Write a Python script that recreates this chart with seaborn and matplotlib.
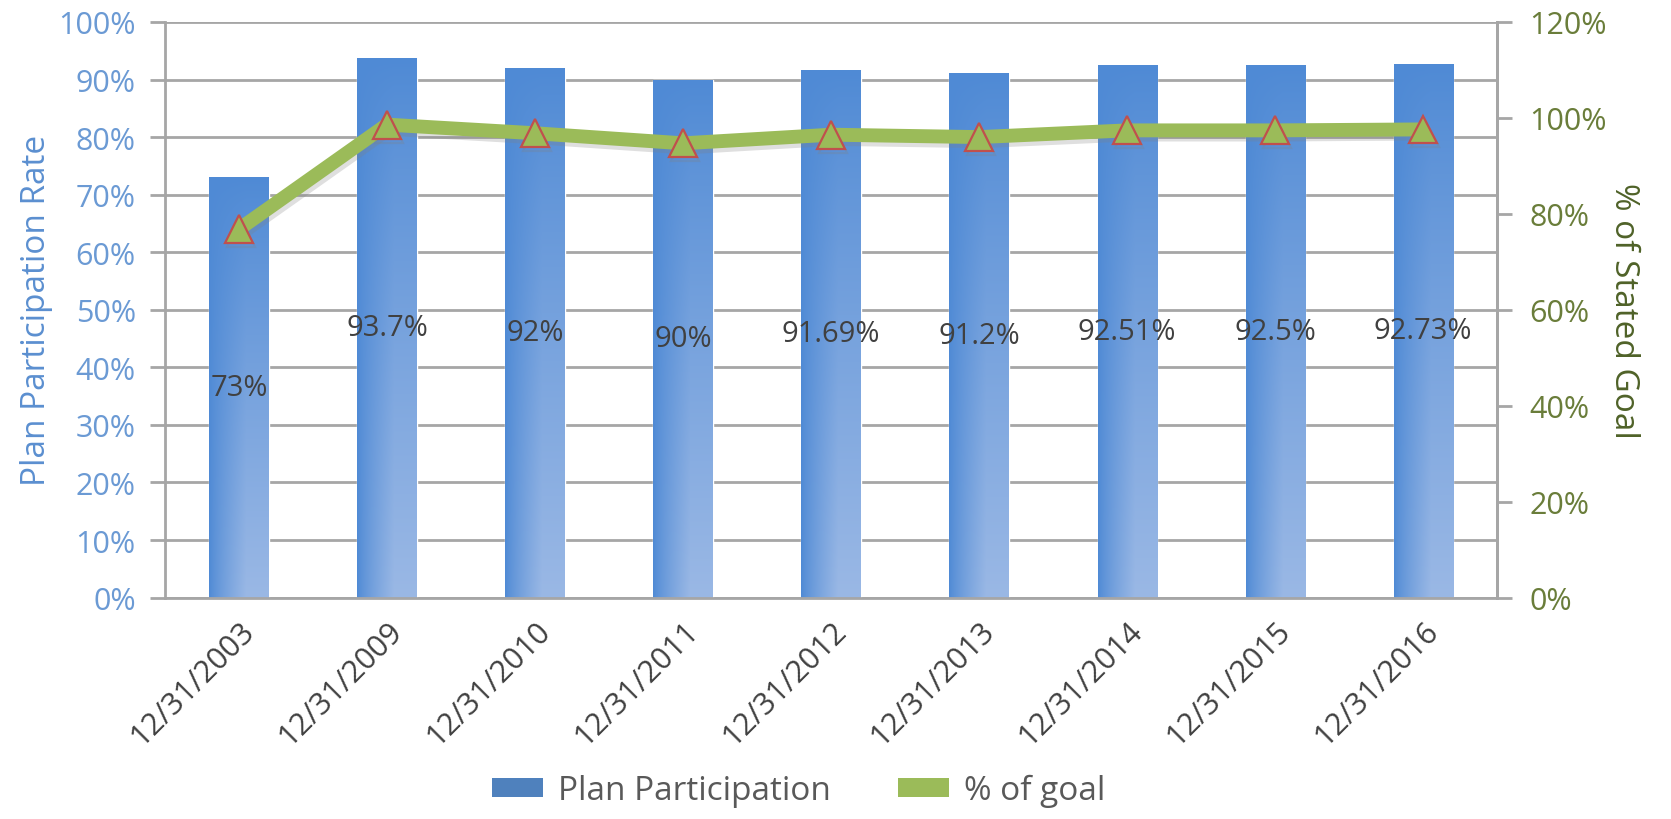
import numpy as np
import pandas as pd
import matplotlib
matplotlib.use("Agg")
import matplotlib.pyplot as plt
import matplotlib.patheffects as pe
from matplotlib.patches import Patch
import seaborn as sns

# ---- data ----
dates = ["12/31/2003", "12/31/2009", "12/31/2010", "12/31/2011", "12/31/2012",
         "12/31/2013", "12/31/2014", "12/31/2015", "12/31/2016"]
participation = [0.73, 0.937, 0.92, 0.90, 0.9169, 0.912, 0.9251, 0.925, 0.9273]
bar_labels = ["73%", "93.7%", "92%", "90%", "91.69%", "91.2%", "92.51%", "92.5%", "92.73%"]
pct_of_goal = [0.768, 0.986, 0.968, 0.947, 0.965, 0.960, 0.974, 0.974, 0.976]
left_ticks = [0, .1, .2, .3, .4, .5, .6, .7, .8, .9, 1.0]
right_ticks = [0, .2, .4, .6, .8, 1.0, 1.2]

sns.set_style("white")
plt.rcParams['font.family'] = ['Open Sans', 'DejaVu Sans']

BLUE_DARK = np.array([0x4f, 0x8a, 0xd5]) / 255
BLUE_LIGHT = np.array([0x9a, 0xb8, 0xe5]) / 255
GREEN = "#9bbb59"
GRID = "#a6a6a6"

fig = plt.figure(figsize=(16.71, 8.20), dpi=100)
ax = fig.add_axes([0.0987, 0.270, 0.7973, 0.702])

df = pd.DataFrame({"date": dates, "participation": participation})
sns.barplot(data=df, x="date", y="participation", ax=ax, color=BLUE_DARK,
            width=0.4, saturation=1, zorder=2)

# gradient fill inside each bar
H, W = 200, 60
xs = np.linspace(0, 1, W)
ys = np.linspace(0, 1, H)  # 0 bottom, 1 top
XX, YY = np.meshgrid(xs, ys)
t = np.clip(XX * 1.6, 0, 1) ** 0.8 * (1 - YY) ** 0.9
img = BLUE_DARK[None, None, :] * (1 - t[..., None]) + BLUE_LIGHT[None, None, :] * t[..., None]
for p in list(ax.patches):
    x0, y0 = p.get_x(), p.get_y()
    w, h = p.get_width(), p.get_height()
    im = ax.imshow(img, extent=[x0, x0 + w, y0, y0 + h], origin="lower",
                   aspect="auto", zorder=2.1, interpolation="bilinear")
    im.set_clip_path(p)

ax.bar_label(ax.containers[0], labels=bar_labels, label_type="center",
             fontsize=21, color="#404040", zorder=5)

ax.set_xlim(-0.5, len(dates) - 0.5)
ax.set_ylim(0, 1.0)
ax.set_yticks(left_ticks)
ax.set_yticklabels([f"{int(round(v*100))}%" for v in left_ticks])
ax.yaxis.grid(True, color=GRID, linewidth=2, zorder=0)
ax.set_axisbelow(True)
ax.tick_params(axis="y", direction="out", length=11, width=2, color=GRID,
               labelsize=22, labelcolor="#6b9ad4", pad=10)
ax.set_ylabel("Plan Participation Rate", fontsize=24, color="#5b8fd0", labelpad=4)
ax.set_xlabel("")

# x ticks: labels at centres (small inward ticks), boundaries as outward minor ticks
ax.set_xticks(np.arange(len(dates)))
ax.set_xticklabels(dates, rotation=45, ha="right", rotation_mode="anchor",
                   fontsize=22, color="#404040")
ax.tick_params(axis="x", direction="in", length=8, width=2, color=GRID, pad=13)
ax.set_xticks(np.arange(len(dates) + 1) - 0.5, minor=True)
ax.tick_params(axis="x", which="minor", direction="out", length=11, width=2, color=GRID)

ax.spines["top"].set_visible(False)
for s in ["left", "bottom", "right"]:
    ax.spines[s].set_color(GRID)
    ax.spines[s].set_linewidth(2)

# secondary axis line
ax2 = ax.twinx()
pos = np.arange(len(dates))
ax2.plot(pos, pct_of_goal, color=GREEN, linewidth=10, solid_joinstyle="miter",
         marker="^", markersize=20, markerfacecolor=GREEN, markeredgecolor="#c0504d",
         markeredgewidth=1.6, zorder=4,
         path_effects=[pe.SimpleLineShadow(offset=(1.5, -3), shadow_color="gray", alpha=0.25), pe.Normal()])
ax2.set_ylim(0, 1.2)
ax2.set_yticks(right_ticks)
ax2.set_yticklabels([f"{int(round(v*100))}%" for v in right_ticks])
ax2.tick_params(axis="y", direction="out", length=11, width=2, color=GRID,
                labelsize=22, labelcolor="#6a7d3a", pad=12)
ax2.set_ylabel("% of Stated Goal", fontsize=24, color="#4f6228", rotation=270, labelpad=24)
for s in ["top", "left", "bottom"]:
    ax2.spines[s].set_visible(False)
ax2.spines["right"].set_color(GRID)
ax2.spines["right"].set_linewidth(2)
ax2.set_xlim(-0.5, len(dates) - 0.5)

handles = [Patch(facecolor="#4f81bd", edgecolor="none"),
           Patch(facecolor=GREEN, edgecolor="none")]
fig.legend(handles, ["Plan Participation", "% of goal"], loc="center",
           bbox_to_anchor=(0.478, 0.035), ncol=2, frameon=False, fontsize=24,
           labelcolor="#595959", handlelength=1.55, handleheight=0.5,
           columnspacing=2.0, handletextpad=0.45)

fig.savefig("out.png", dpi=100)
